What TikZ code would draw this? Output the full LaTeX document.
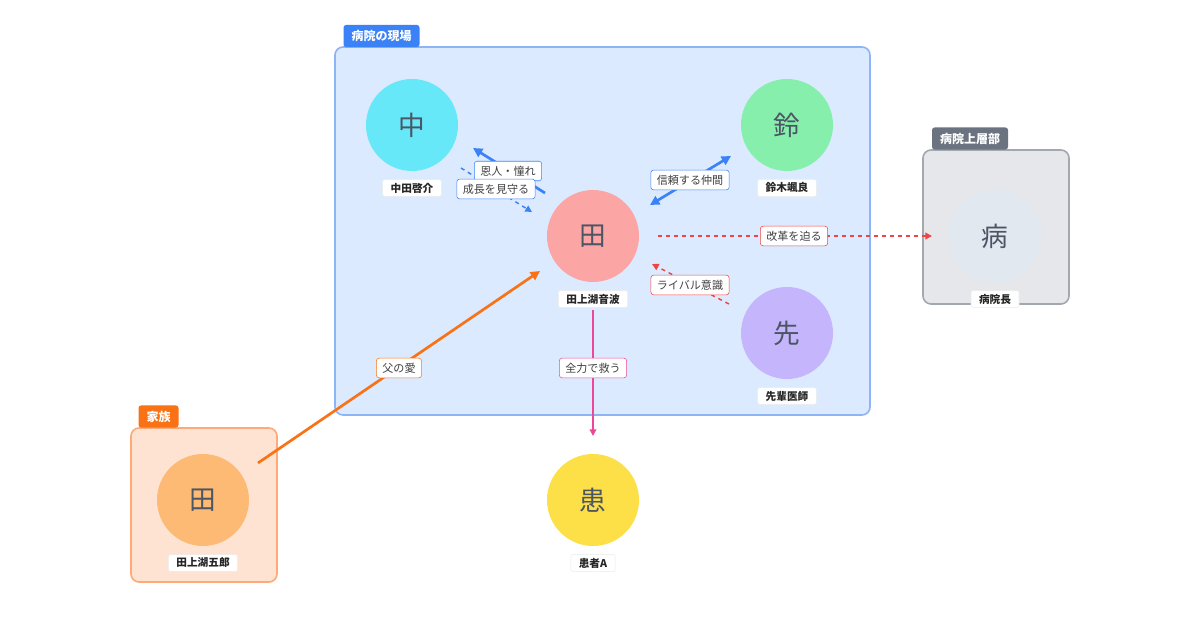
\documentclass[tikz,border=0pt]{standalone}
\usepackage{fontspec}
\setmainfont{Noto Sans CJK JP}
\usetikzlibrary{arrows.meta}
\definecolor{bluebg}{HTML}{DBEAFE}\definecolor{bluebd}{HTML}{8DB4F5}\definecolor{bluetag}{HTML}{3B82F6}
\definecolor{graybg}{HTML}{E5E7EB}\definecolor{graybd}{HTML}{A3A8B0}\definecolor{graytag}{HTML}{6B7280}
\definecolor{orbg}{HTML}{FFE3D2}\definecolor{orbd}{HTML}{FDAA78}\definecolor{ortag}{HTML}{F97316}
\definecolor{cA}{HTML}{67E8F9}\definecolor{cB}{HTML}{86EFAC}\definecolor{cC}{HTML}{FCA5A5}
\definecolor{cD}{HTML}{C4B5FD}\definecolor{cE}{HTML}{E2E8F0}\definecolor{cF}{HTML}{FDE047}\definecolor{cG}{HTML}{FDBA74}
\definecolor{txt}{HTML}{4B5563}\definecolor{eblue}{HTML}{3B82F6}\definecolor{ered}{HTML}{EF4444}
\definecolor{epink}{HTML}{EC4899}\definecolor{eor}{HTML}{F97316}
\begin{document}
\begin{tikzpicture}[x=0.75pt,y=-0.75pt,
 person/.style={circle,minimum size=69pt,inner sep=0,text=txt,font=\fontsize{20}{22}\selectfont},
 pname/.style={fill=white,draw=black!8,rounded corners=1.5pt,inner xsep=6pt,inner ysep=2.5pt,font=\fontsize{8}{9}\selectfont\bfseries,text=black!85},
 tag/.style={rounded corners=2pt,text=white,inner xsep=6pt,inner ysep=4pt,font=\fontsize{9}{10}\selectfont\bfseries},
 elab/.style={fill=white,draw=#1,rounded corners=2pt,inner xsep=4.5pt,inner ysep=3.5pt,font=\fontsize{8.3}{9}\selectfont,text=black!75},
 arr/.style={-{Triangle[length=7pt,width=7pt]}}]
\useasboundingbox (0,0) rectangle (1200,630);
\fill[white] (0,0) rectangle (1200,630);
\draw[fill=bluebg,draw=bluebd,line width=1.2pt,rounded corners=6pt] (335,47) rectangle (870,415);
\node[tag,fill=bluetag] (g1) at (381.5,36) {病院の現場};
\draw[fill=graybg,draw=graybd,line width=1.2pt,rounded corners=6pt] (923,150) rectangle (1069,304);
\node[tag,fill=graytag] (g2) at (970,138.5) {病院上層部};
\draw[fill=orbg,draw=orbd,line width=1.2pt,rounded corners=6pt] (131,428) rectangle (277,582);
\node[tag,fill=ortag] (g3) at (158.5,416.5) {家族};
\node[person,fill=cA] (naka) at (412,125) {中};
\node[pname] (nakaL) at (412,188) {中田啓介};
\node[person,fill=cB] (suzu) at (787,125) {鈴};
\node[pname] (suzuL) at (787,188) {鈴木颯良};
\node[person,fill=cC] (ta) at (593,236) {田};
\node[pname] (taL) at (593,299) {田上湖音波};
\node[person,fill=cD] (sen) at (787,333) {先};
\node[pname] (senL) at (787,396) {先輩医師};
\node[person,fill=cE] (byo) at (995,236) {病};
\node[pname] (byoL) at (995,299) {病院長};
\node[person,fill=cF] (kan) at (593,500) {患};
\node[pname] (kanL) at (593,563) {患者A};
\node[person,fill=cG] (chichi) at (203,500) {田};
\node[pname] (chichiL) at (203,563) {田上湖五郎};
\coordinate (a1) at (545,193); \coordinate (a2) at (473,148);
\coordinate (b1) at (461,168); \coordinate (b2) at (532,212);
\coordinate (c1) at (650,205); \coordinate (c2) at (731,156);
\coordinate (d1) at (658,236); \coordinate (d2) at (932,236);
\coordinate (e1) at (729,304); \coordinate (e2) at (652,264);
\coordinate (f1) at (593,310); \coordinate (f2) at (593,436);
\coordinate (h1) at (258,463); \coordinate (h2) at (540,271);
\draw[eblue,line width=1.1pt,dashed,-{Triangle[length=5pt,width=5pt]}] (b1) -- (b2);
\draw[eblue,line width=2pt,arr] (a1) -- (a2);
\draw[eblue,line width=2pt,{Triangle[length=7pt,width=7pt]}-{Triangle[length=7pt,width=7pt]}] (c1) -- (c2);
\draw[ered,line width=1.1pt,dashed,-{Triangle[length=5pt,width=5pt]}] (d1) -- (d2);
\draw[ered,line width=1.1pt,dashed,-{Triangle[length=5pt,width=5pt]}] (e1) -- (e2);
\draw[epink,line width=1.1pt,-{Triangle[length=5pt,width=5pt]}] (f1) -- (f2);
\draw[eor,line width=2pt,arr] (h1) -- (h2);
\node[elab=eblue] (la) at (508,171) {恩人・憧れ};
\node[elab=eblue] (lb) at (496,189) {成長を見守る};
\node[elab=eblue] (lc) at (690,180) {信頼する仲間};
\node[elab=ered] (ld) at (794,236) {改革を迫る};
\node[elab=ered] (le) at (690,285) {ライバル意識};
\node[elab=epink] (lf) at (593,368) {全力で救う};
\node[elab=eor] (lh) at (399,368) {父の愛};
\end{tikzpicture}
\end{document}
